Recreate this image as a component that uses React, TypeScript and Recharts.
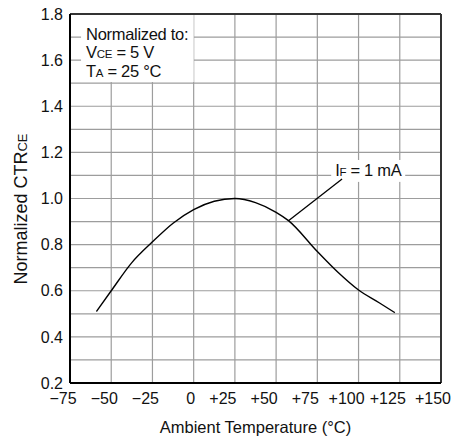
import React from 'react';
import {
  LineChart,
  Line,
  XAxis,
  YAxis,
  CartesianGrid,
  ReferenceLine,
  ReferenceArea,
} from 'recharts';

// values
const temps = [-59, -50, -37.5, -25, -12.5, 0, 12.5, 25, 37.5, 50, 57.5, 75, 87.5, 100, 112.5, 122];
const ctrValues = [0.51, 0.6, 0.722, 0.812, 0.893, 0.952, 0.988, 1.0, 0.982, 0.94, 0.904, 0.77, 0.68, 0.603, 0.548, 0.505];

const xTicks = [-75, -50, -25, 0, 25, 50, 75, 100, 125, 150];
const yTicks = [0.2, 0.4, 0.6, 0.8, 1.0, 1.2, 1.4, 1.6, 1.8];
const yGrid = [0.2, 0.3, 0.4, 0.5, 0.6, 0.7, 0.8, 0.9, 1.0, 1.1, 1.2, 1.3, 1.4, 1.5, 1.6, 1.7, 1.8];

const data = temps.map((t, i) => ({ t, ctr: ctrValues[i] }));

const FONT = '"Liberation Sans", Arial, Helvetica, sans-serif';

const fmtTemp = (v: number) => (v < 0 ? `\u2212${Math.abs(v)}` : v === 0 ? '0' : `+${v}`);

// the datasheet sets its x labels a little left of the grid lines
const TempTick = (props: any) => {
  const { x, y, payload } = props;
  const v = payload.value;
  const dx = v > 0 ? (v === 150 ? -8 : -12) : v === 0 ? -3 : -7;
  return (
    <text x={x + dx} y={y} dy="0.71em" textAnchor="middle" fontSize={16} fontFamily={FONT} fill="#111">
      {fmtTemp(v)}
    </text>
  );
};

const NoteBox = (props: any) => {
  const { x, y, width, height } = props;
  return (
    <g>
      <rect x={x} y={y} width={width} height={height} fill="#fff" />
      <text x={x + 5} y={y + 26} fontSize={16.5} letterSpacing={-0.3} fontFamily={FONT} fill="#111">
        Normalized to:
      </text>
      <text x={x + 5} y={y + 44.3} fontSize={16.5} letterSpacing={-0.3} fontFamily={FONT} fill="#111">
        V<tspan fontSize={11.5}>CE</tspan> = 5 V
      </text>
      <text x={x + 5} y={y + 62.7} fontSize={16.5} letterSpacing={-0.3} fontFamily={FONT} fill="#111">
        T<tspan fontSize={11.5}>A</tspan> = 25 °C
      </text>
    </g>
  );
};

const CurveLabel = (props: any) => {
  const { x, y, width, height } = props;
  return (
    <g>
      <rect x={x} y={y} width={width} height={height} fill="#fff" />
      <text x={x + 4} y={y + 16} fontSize={16.5} letterSpacing={-0.3} fontFamily={FONT} fill="#111">
        I<tspan fontSize={11.5}>F</tspan> = 1 mA
      </text>
    </g>
  );
};

export default function App() {
  return (
    <div style={{ position: 'absolute', left: 0, top: 0, width: 457, height: 442, background: '#fff' }}>
      <LineChart
        width={457}
        height={442}
        data={data}
        margin={{ top: 14, right: 16, bottom: 0, left: 0 }}
        style={{ fontFamily: FONT }}
      >
        <CartesianGrid
          stroke="#9d9d9d"
          strokeWidth={1.2}
          horizontalValues={yGrid}
          verticalValues={xTicks}
        />
        <XAxis
          type="number"
          dataKey="t"
          domain={[-75, 150]}
          ticks={xTicks}
          interval={0}
          height={59}
          tickLine={false}
          tickSize={0}
          tickMargin={10}
          axisLine={{ stroke: '#000', strokeWidth: 2 }}
          tick={TempTick}
          label={{
            content: (p: any) => (
              <text
                x={p.viewBox.x + p.viewBox.width / 2}
                y={433}
                textAnchor="middle"
                fontSize={16.5}
                fontFamily={FONT}
                fill="#111"
              >
                Ambient Temperature (°C)
              </text>
            ),
          }}
        />
        <YAxis
          type="number"
          domain={[0.2, 1.8]}
          ticks={yTicks}
          tickFormatter={(v: number) => v.toFixed(1)}
          interval={0}
          width={70}
          tickLine={false}
          tickSize={0}
          tickMargin={7}
          axisLine={{ stroke: '#000', strokeWidth: 2 }}
          tick={{ fill: '#111', fontSize: 16, fontFamily: FONT }}
          label={{
            content: (p: any) => (
              <text
                transform={`translate(26.5, ${p.viewBox.y + p.viewBox.height / 2 + 10.5}) rotate(-90)`}
                textAnchor="middle"
                fontSize={18}
                fontFamily={FONT}
                fill="#111"
              >
                Normalized CTR<tspan fontSize={13}>CE</tspan>
              </text>
            ),
          }}
        />
        <ReferenceArea x1={-68.3} x2={0} y1={1.505} y2={1.8} shape={NoteBox} />
        <ReferenceArea x1={83.4} x2={128.3} y1={1.072} y2={1.167} shape={CurveLabel} />
        <ReferenceLine y={1.8} stroke="#333" strokeWidth={2} />
        <ReferenceLine x={150} stroke="#333" strokeWidth={2} />
        <ReferenceLine
          segment={[
            { x: 57.5, y: 0.904 },
            { x: 90, y: 1.085 },
          ]}
          stroke="#000"
          strokeWidth={1.3}
        />
        <Line
          type="monotone"
          dataKey="ctr"
          stroke="#000"
          strokeWidth={1.4}
          dot={false}
          activeDot={false}
          isAnimationActive={false}
        />
      </LineChart>
    </div>
  );
}
